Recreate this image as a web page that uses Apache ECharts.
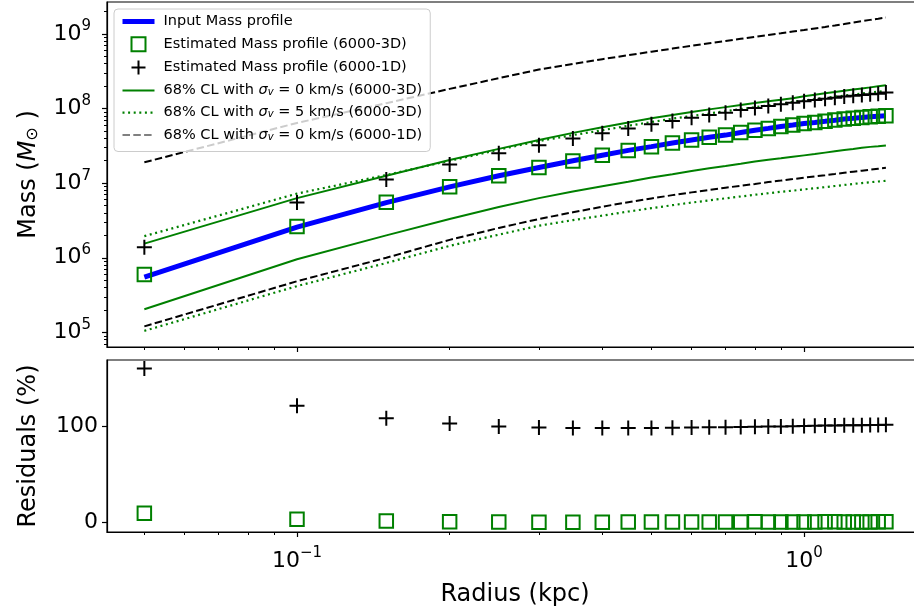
<!DOCTYPE html>
<html>
<head>
<meta charset="utf-8">
<title>Mass profile</title>
<script src="https://cdn.jsdelivr.net/npm/echarts@6/dist/echarts.min.js"></script>
<style>
html, body { margin: 0; padding: 0; background: #fff; }
#main { width: 914px; height: 615px; }
</style>
</head>
<body>
<div id="main"></div>
<script>
// radii of the bins (kpc)
var radius = [0.05, 0.1, 0.15, 0.2, 0.25, 0.3, 0.35, 0.4, 0.45, 0.5, 0.55, 0.6, 0.65, 0.7, 0.75,
              0.8, 0.85, 0.9, 0.95, 1.0, 1.05, 1.1, 1.15, 1.2, 1.25, 1.3, 1.35, 1.4, 1.45];

// log10 of mass (Msun)
var logInput = [5.74, 6.41, 6.74, 6.95, 7.10, 7.21, 7.30, 7.375, 7.44, 7.49, 7.54, 7.58, 7.615, 7.645, 7.68,
                7.71, 7.735, 7.76, 7.78, 7.80, 7.815, 7.83, 7.845, 7.86, 7.87, 7.88, 7.89, 7.898, 7.905];
var logEst3D = [5.775, 6.42, 6.745, 6.952, 7.10, 7.209, 7.299, 7.374, 7.44, 7.49, 7.54, 7.58, 7.615, 7.645, 7.68,
                7.711, 7.735, 7.76, 7.78, 7.80, 7.815, 7.831, 7.846, 7.86, 7.87, 7.88, 7.89, 7.899, 7.906];
var logEst1D = [6.14, 6.74, 7.05, 7.25, 7.40, 7.51, 7.60, 7.67, 7.735, 7.79, 7.835, 7.878, 7.913, 7.943, 7.98,
                8.01, 8.035, 8.06, 8.08, 8.10, 8.117, 8.132, 8.147, 8.162, 8.172, 8.183, 8.193, 8.201, 8.215];
// 68% CL bands
var logUp0_3D = [6.19, 6.80, 7.10, 7.31, 7.46, 7.58, 7.675, 7.75, 7.815, 7.87, 7.915, 7.955, 7.99, 8.02, 8.05,
                 8.075, 8.10, 8.12, 8.14, 8.165, 8.185, 8.205, 8.222, 8.24, 8.255, 8.27, 8.285, 8.30, 8.314];
var logLo0_3D = [5.31, 5.98, 6.30, 6.52, 6.68, 6.80, 6.89, 6.96, 7.02, 7.075, 7.12, 7.165, 7.20, 7.23, 7.26,
                 7.29, 7.315, 7.335, 7.355, 7.373, 7.39, 7.41, 7.428, 7.445, 7.46, 7.475, 7.487, 7.497, 7.507];
var logUp5_3D = [6.29, 6.86, 7.11, 7.30, 7.45, 7.565, 7.645, 7.71, 7.77, 7.82, 7.865, 7.90, 7.935, 7.965, 7.995,
                 8.02, 8.045, 8.065, 8.09, 8.11, 8.128, 8.145, 8.16, 8.175, 8.19, 8.203, 8.215, 8.227, 8.239];
var logLo5_3D = [5.02, 5.62, 5.93, 6.16, 6.31, 6.43, 6.505, 6.565, 6.62, 6.665, 6.705, 6.74, 6.77, 6.797, 6.822,
                 6.845, 6.865, 6.885, 6.90, 6.917, 6.932, 6.947, 6.962, 6.976, 6.99, 7.002, 7.013, 7.023, 7.032];
var logUp0_1D = [7.28, 7.808, 8.073, 8.265, 8.408, 8.525, 8.60, 8.663, 8.716, 8.764, 8.805, 8.842, 8.877, 8.907, 8.936,
                 8.963, 8.988, 9.011, 9.034, 9.054, 9.075, 9.095, 9.115, 9.135, 9.155, 9.173, 9.19, 9.206, 9.222];
var logLo0_1D = [5.08, 5.685, 6.00, 6.24, 6.40, 6.52, 6.61, 6.685, 6.745, 6.795, 6.84, 6.877, 6.91, 6.94, 6.965,
                 6.99, 7.015, 7.035, 7.055, 7.075, 7.092, 7.108, 7.124, 7.14, 7.155, 7.168, 7.181, 7.194, 7.206];

// residuals (%)
var res1D = [160, 121, 108, 102.5, 99.5, 98.5, 98, 97.8, 97.9, 98, 98.2, 98.4, 98.6, 98.8, 99,
             99.2, 99.4, 99.6, 99.8, 100, 100.2, 100.4, 100.5, 100.7, 100.8, 100.9, 101, 101.1, 101.3];
var res3D = [9, 2.8, 1.0, 0.3, 0, -0.2, -0.3, -0.2, -0.1, 0, 0.1, 0, -0.1, 0, 0.1,
             0.2, 0.1, 0, -0.1, 0, 0.1, 0.2, 0.2, 0.1, 0, 0, 0.1, 0.2, 0.3];

// tick values
var xMajorTicks = [0.1, 1];
var yMajorTicks = [1e5, 1e6, 1e7, 1e8, 1e9];
var resTicks = [0, 100];

var xMinorTicks = [];
[0.01, 0.1].forEach(function (d) {
    for (var m = 2; m <= 9; m++) xMinorTicks.push(m * d);
});
var yMinorTicks = [];
for (var k = 4; k <= 9; k++) {
    for (var m = 2; m <= 9; m++) yMinorTicks.push(m * Math.pow(10, k));
}

var FONT = 'DejaVu Sans';
var GREEN = '#008000';
var xMin = 0.0422, xMax = 1.716;
var yMin = 6.36e4, yMax = 2.69e9;

function logPairs(arr) {
    return radius.map(function (r, i) { return [r, Math.pow(10, arr[i])]; });
}
function pairs(arr) {
    return radius.map(function (r, i) { return [r, arr[i]]; });
}
function powLabel(v) {
    var e = Math.round(Math.log10(v));
    return '{b|10}{s|' + (e < 0 ? '\u2212' + (-e) : e) + '}';
}
function lg(list) {
    return list.map(function (v) { return Math.log10(v); });
}

var plusPath = 'path://M0,8L16,8M8,0L8,16';
var squarePath = 'path://M0,0L16,0L16,16L0,16Z';
var tickRich = {
    b: { fontFamily: FONT, fontSize: 22, color: '#000', lineHeight: 30 },
    s: { fontFamily: FONT, fontSize: 15, color: '#000', verticalAlign: 'top', lineHeight: 15 }
};
var axisLineStyle = { color: '#000', width: 1.2 };
var nameStyle = { fontFamily: FONT, fontSize: 24, color: '#000' };

var legendNames = {
    input: 'Input Mass profile',
    est3d: 'Estimated Mass profile (6000-3D)',
    est1d: 'Estimated Mass profile (6000-1D)',
    cl0_3d: '68% CL with {i|\u03c3}{sub|v}{t| = 0 km/s (6000-3D)}',
    cl5_3d: '68% CL with {i|\u03c3}{sub|v}{t| = 5 km/s (6000-3D)}',
    cl0_1d: '68% CL with {i|\u03c3}{sub|v}{t| = 0 km/s (6000-1D)}'
};

// log axes carrying the data (and the labels)
function dataX(grid, withLabels) {
    return {
        type: 'log', gridIndex: grid, min: xMin, max: xMax, position: 'bottom',
        axisLine: { show: true, onZero: false, lineStyle: axisLineStyle },
        axisTick: { show: false },
        axisLabel: {
            show: withLabels, customValues: xMajorTicks, margin: 14,
            formatter: powLabel, rich: tickRich
        },
        splitLine: { show: false },
        name: withLabels ? 'Radius (kpc)' : '',
        nameLocation: 'middle', nameGap: 51,
        nameTextStyle: nameStyle
    };
}
// tick-only axes, in decades
function tickX(grid, ticks, len) {
    return {
        type: 'value', gridIndex: grid, min: Math.log10(xMin), max: Math.log10(xMax), position: 'bottom',
        axisLine: { show: false, onZero: false },
        axisTick: { show: true, length: len, lineStyle: { color: '#000', width: len > 3 ? 1.2 : 1 }, customValues: lg(ticks) },
        axisLabel: { show: false },
        splitLine: { show: false }
    };
}
function tickY(ticks, len) {
    return {
        type: 'value', gridIndex: 0, min: Math.log10(yMin), max: Math.log10(yMax), position: 'left',
        axisLine: { show: false, onZero: false },
        axisTick: { show: true, length: len, lineStyle: { color: '#000', width: len > 3 ? 1.2 : 1 }, customValues: lg(ticks) },
        axisLabel: { show: false },
        splitLine: { show: false }
    };
}

var option = {
    animation: false,
    backgroundColor: '#fff',
    grid: [
        { left: 107, top: 2, width: 816, height: 345, outerBoundsMode: 'none', show: true, borderColor: '#000', borderWidth: 1.2 },
        { left: 107, top: 360, width: 816, height: 172, outerBoundsMode: 'none', show: true, borderColor: '#000', borderWidth: 1.2 }
    ],
    xAxis: [
        dataX(0, false), dataX(1, true),
        tickX(0, xMajorTicks, 5), tickX(0, xMinorTicks, 3),
        tickX(1, xMajorTicks, 5), tickX(1, xMinorTicks, 3)
    ],
    yAxis: [
        {
            type: 'log', gridIndex: 0, min: yMin, max: yMax, position: 'left',
            axisLine: { show: true, onZero: false, lineStyle: axisLineStyle },
            axisTick: { show: false },
            axisLabel: { customValues: yMajorTicks, margin: 16, formatter: powLabel, rich: tickRich },
            splitLine: { show: false },
            name: 'Mass ({i|M}{sub|\u2299} )',
            nameLocation: 'middle', nameGap: 66, nameRotate: 90,
            nameTextStyle: {
                fontFamily: FONT, fontSize: 24, color: '#000',
                rich: {
                    i: { fontFamily: FONT, fontSize: 24, fontStyle: 'italic', color: '#000' },
                    sub: { fontFamily: FONT, fontSize: 16, color: '#000', verticalAlign: 'bottom', lineHeight: 16 }
                }
            }
        },
        {
            type: 'value', gridIndex: 1, min: -10.4, max: 168.75, position: 'left',
            axisLine: { show: true, onZero: false, lineStyle: axisLineStyle },
            axisTick: { show: true, length: 5, lineStyle: axisLineStyle, customValues: resTicks },
            axisLabel: { customValues: resTicks, margin: 9, fontFamily: FONT, fontSize: 22, color: '#000' },
            splitLine: { show: false },
            name: 'Residuals (%)',
            nameLocation: 'middle', nameGap: 66, nameRotate: 90,
            nameTextStyle: nameStyle
        },
        tickY(yMajorTicks, 5), tickY(yMinorTicks, 3)
    ],
    legend: {
        orient: 'vertical', left: 114, top: 9,
        itemWidth: 32, itemHeight: 14, itemGap: 7.3,
        padding: [5, 8, 9, 6],
        backgroundColor: 'rgba(255,255,255,0.8)',
        borderColor: '#cccccc', borderWidth: 1, borderRadius: 4,
        selectedMode: false,
        textStyle: {
            fontFamily: FONT, fontSize: 14.5, color: '#000', padding: [0, 0, 0, 4], lineHeight: 14,
            rich: {
                i: { fontFamily: FONT, fontSize: 14.5, fontStyle: 'italic', color: '#000', lineHeight: 14 },
                sub: { fontFamily: FONT, fontSize: 10, fontStyle: 'italic', color: '#000', verticalAlign: 'bottom', lineHeight: 9 },
                t: { fontFamily: FONT, fontSize: 14.5, color: '#000', lineHeight: 14 }
            }
        },
        formatter: function (name) { return legendNames[name]; },
        data: [
            { name: 'input', itemStyle: { opacity: 0 }, lineStyle: { color: '#0000ff', width: 5 } },
            'est3d', 'est1d',
            { name: 'cl0_3d', itemStyle: { opacity: 0 }, lineStyle: { color: GREEN, width: 2 } },
            { name: 'cl5_3d', itemStyle: { opacity: 0 }, lineStyle: { color: GREEN, width: 2.2, type: [2, 3.6] } },
            { name: 'cl0_1d', itemStyle: { opacity: 0 }, lineStyle: { color: '#808080', width: 2, type: [7.5, 3.3] } }
        ]
    },
    series: [
        {
            name: 'input', type: 'line', xAxisIndex: 0, yAxisIndex: 0, z: 3,
            symbol: 'none', data: logPairs(logInput),
            lineStyle: { color: '#0000ff', width: 5 }, itemStyle: { color: '#0000ff' }
        },
        {
            name: 'est3d', type: 'scatter', xAxisIndex: 0, yAxisIndex: 0, z: 4,
            symbol: squarePath, symbolSize: 13.5, data: logPairs(logEst3D),
            itemStyle: { color: 'rgba(0,0,0,0)', borderColor: GREEN, borderWidth: 2, opacity: 1 }
        },
        {
            name: 'est1d', type: 'scatter', xAxisIndex: 0, yAxisIndex: 0, z: 4,
            symbol: plusPath, symbolSize: 15, data: logPairs(logEst1D),
            itemStyle: { color: 'rgba(0,0,0,0)', borderColor: '#000', borderWidth: 2, opacity: 1 }
        },
        {
            name: 'cl0_3d', type: 'line', xAxisIndex: 0, yAxisIndex: 0, z: 2,
            symbol: 'none', data: logPairs(logUp0_3D),
            lineStyle: { color: GREEN, width: 2 }, itemStyle: { color: GREEN }
        },
        {
            name: 'cl0_3d', type: 'line', xAxisIndex: 0, yAxisIndex: 0, z: 2,
            symbol: 'none', data: logPairs(logLo0_3D),
            lineStyle: { color: GREEN, width: 2 }, itemStyle: { color: GREEN }
        },
        {
            name: 'cl5_3d', type: 'line', xAxisIndex: 0, yAxisIndex: 0, z: 2,
            symbol: 'none', data: logPairs(logUp5_3D),
            lineStyle: { color: GREEN, width: 2.2, type: [2, 3.6] }, itemStyle: { color: GREEN }
        },
        {
            name: 'cl5_3d', type: 'line', xAxisIndex: 0, yAxisIndex: 0, z: 2,
            symbol: 'none', data: logPairs(logLo5_3D),
            lineStyle: { color: GREEN, width: 2.2, type: [2, 3.6] }, itemStyle: { color: GREEN }
        },
        {
            name: 'cl0_1d', type: 'line', xAxisIndex: 0, yAxisIndex: 0, z: 2,
            symbol: 'none', data: logPairs(logUp0_1D),
            lineStyle: { color: '#000', width: 2, type: [7.5, 3.3] }, itemStyle: { color: '#000' }
        },
        {
            name: 'cl0_1d', type: 'line', xAxisIndex: 0, yAxisIndex: 0, z: 2,
            symbol: 'none', data: logPairs(logLo0_1D),
            lineStyle: { color: '#000', width: 2, type: [7.5, 3.3] }, itemStyle: { color: '#000' }
        },
        // residual panel
        {
            name: 'res3d', type: 'scatter', xAxisIndex: 1, yAxisIndex: 1,
            symbol: squarePath, symbolSize: 13.5, data: pairs(res3D),
            itemStyle: { color: 'rgba(0,0,0,0)', borderColor: GREEN, borderWidth: 2, opacity: 1 }
        },
        {
            name: 'res1d', type: 'scatter', xAxisIndex: 1, yAxisIndex: 1,
            symbol: plusPath, symbolSize: 15, data: pairs(res1D),
            itemStyle: { color: 'rgba(0,0,0,0)', borderColor: '#000', borderWidth: 2, opacity: 1 }
        }
    ]
};

var myChart = echarts.init(document.getElementById('main'), null, { renderer: 'canvas' });
myChart.setOption(option);
</script>
</body>
</html>
